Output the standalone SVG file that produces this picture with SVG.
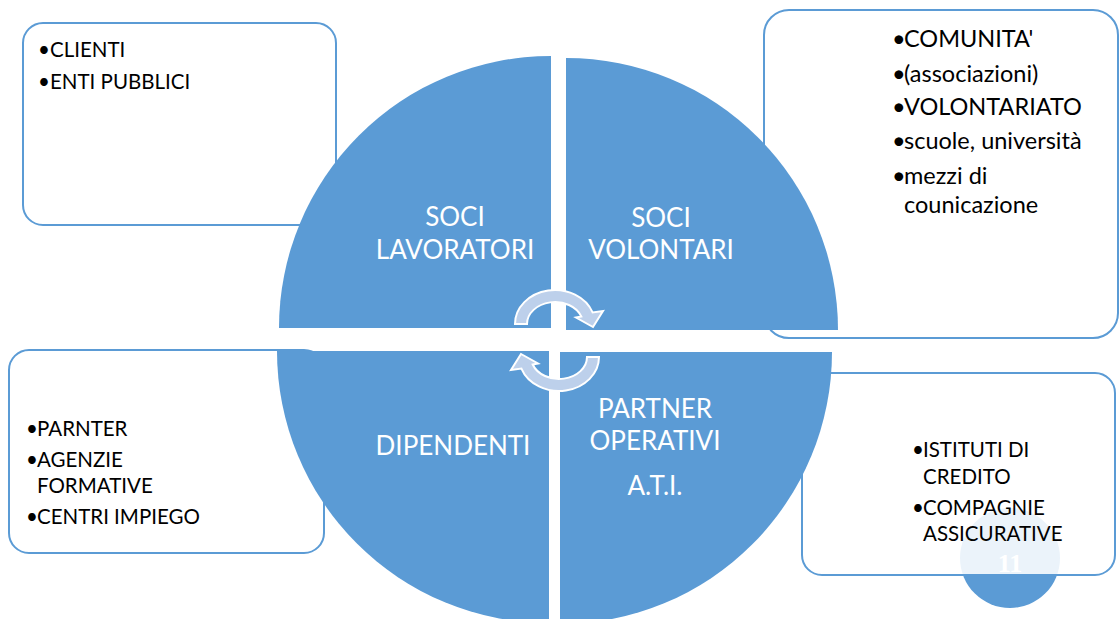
<svg xmlns="http://www.w3.org/2000/svg" width="1119" height="619" viewBox="0 0 1119 619">
<style>
.box{fill:#ffffff;fill-opacity:0.88;stroke:#5b9bd5;stroke-width:2}
.quad{fill:#5b9bd5}
.qt{font-family:Lato,"Liberation Sans",sans-serif;font-size:26px;fill:#ffffff;text-anchor:middle}
.bt{font-family:Lato,"Liberation Sans",sans-serif;font-size:20.5px;fill:#000000}
.bt2{font-family:Lato,"Liberation Sans",sans-serif;font-size:23.5px;fill:#000000}
.arrow{fill:#bdd0eb;stroke:#ffffff;stroke-width:2;stroke-linejoin:miter}
</style>
<defs>
<path id="cyc" d="M515,324 A40,34 0 0 1 592.6,312.4 L603,311 L593,327 L576,317.5 L581.3,316.5 A28,22 0 0 0 527,324 Z"/>
</defs>
<rect width="1119" height="619" fill="#ffffff"/>
<g id="page-number">
<circle cx="1010" cy="558" r="50" fill="#5b9bd5"/>
<text x="1010" y="572" font-family="Liberation Serif,serif" font-weight="bold" font-size="26" fill="#ffffff" text-anchor="middle">11</text>
</g>
<g id="box-clienti">
<rect class="box" x="23" y="23" width="313" height="202" rx="20"/>
<text class="bt"><tspan x="38" y="57">•</tspan><tspan x="50" y="57">CLIENTI</tspan><tspan x="38" y="89">•</tspan><tspan x="50" y="89">ENTI PUBBLICI</tspan></text>
</g>
<g id="box-comunita">
<rect class="box" x="764" y="10" width="354" height="328" rx="25"/>
<text class="bt2"><tspan x="892" y="47">•</tspan><tspan x="904" y="47">COMUNITA'</tspan><tspan x="892" y="82">•</tspan><tspan x="904" y="82">(associazioni)</tspan><tspan x="892" y="115">•</tspan><tspan x="904" y="115">VOLONTARIATO</tspan><tspan x="892" y="149">•</tspan><tspan x="904" y="149">scuole, università</tspan><tspan x="892" y="184">•</tspan><tspan x="904" y="184">mezzi di</tspan><tspan x="904" y="213">counicazione</tspan></text>
</g>
<g id="box-parnter">
<rect class="box" x="9" y="350" width="315" height="203" rx="20"/>
<text class="bt"><tspan x="26" y="436">•</tspan><tspan x="37" y="436">PARNTER</tspan><tspan x="26" y="467">•</tspan><tspan x="37" y="467">AGENZIE</tspan><tspan x="37" y="493">FORMATIVE</tspan><tspan x="26" y="524">•</tspan><tspan x="37" y="524">CENTRI IMPIEGO</tspan></text>
</g>
<g id="box-istituti">
<rect class="box" x="802" y="373" width="313" height="202" rx="20"/>
<text class="bt"><tspan x="912" y="457">•</tspan><tspan x="923" y="457">ISTITUTI DI</tspan><tspan x="923" y="484">CREDITO</tspan><tspan x="912" y="515">•</tspan><tspan x="923" y="515">COMPAGNIE</tspan><tspan x="923" y="541">ASSICURATIVE</tspan></text>
</g>
<g id="quad-soci-lavoratori">
<path class="quad" d="M551,328 L279,328 A272,272 0 0 1 551,56 Z"/>
<text class="qt"><tspan x="455" y="226">SOCI</tspan><tspan x="455" y="259">LAVORATORI</tspan></text>
</g>
<g id="quad-soci-volontari">
<path class="quad" d="M566,330 L566,58 A272,272 0 0 1 838,330 Z"/>
<text class="qt"><tspan x="661" y="227">SOCI</tspan><tspan x="661" y="259">VOLONTARI</tspan></text>
</g>
<g id="quad-dipendenti">
<path class="quad" d="M549,351 L549,623 A272,272 0 0 1 277,351 Z"/>
<text class="qt" x="453" y="455">DIPENDENTI</text>
</g>
<g id="quad-partner-operativi">
<path class="quad" d="M560,352 L832,352 A272,272 0 0 1 560,624 Z"/>
<text class="qt"><tspan x="655" y="418">PARTNER</tspan><tspan x="655" y="450">OPERATIVI</tspan><tspan x="655" y="495">A.T.I.</tspan></text>
</g>
<g id="connectors">
<use href="#cyc" class="arrow"/>
<use href="#cyc" class="arrow" transform="rotate(180 557 340.5)"/>
</g>
</svg>
